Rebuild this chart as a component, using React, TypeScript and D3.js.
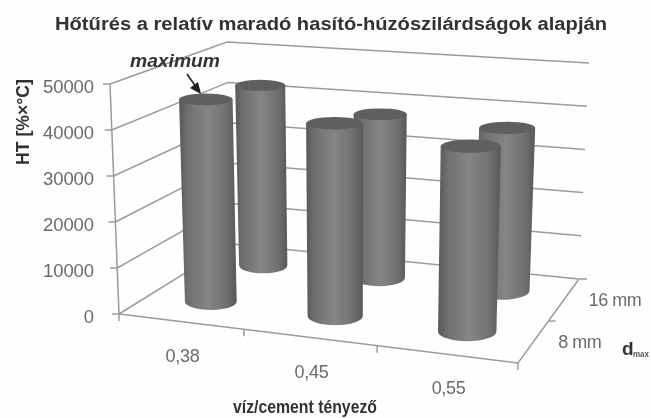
import React from "react";
import * as d3 from "d3";

const titleText = "Hőtűrés a relatív maradó hasító-húzószilárdságok alapján";
const xCategories = ["0,38", "0,45", "0,55"];
const depthCategories = ["8 mm", "16 mm"];
const yTicks = [0, 10000, 20000, 30000, 40000, 50000];
const row8mm = [45050, 42170, 39750];
const row16mm = [42800, 38050, 37100];

const W = 651, H = 418;
// projected corners of the 3D box: [x, y]
const floorFL = [119, 314], floorFR = [518, 363], floorBR = [579, 279], floorBL = [232, 244];
const topFL = [110, 84], topFR = [524, 120], topBR = [589, 63], topBL = [227, 42];

const uScale = d3.scaleLinear().domain([0, 1, 2, 3]).range([0, 0.313, 0.647, 1]);
const vScale = d3.scaleLinear().domain([0, 2]).range([0, 1]);
const zScale = d3.scaleLinear().domain([0, 50000]).range([0, 1]);

const lerp = (a: number, b: number, t: number) => a + (b - a) * t;
function proj(cat: number, depth: number, value: number): [number, number] {
  const u = uScale(cat), v = vScale(depth), z = zScale(value);
  const bil = (fl: number[], fr: number[], br: number[], bl: number[], i: number) =>
    lerp(lerp(fl[i], fr[i], u), lerp(bl[i], br[i], u), v);
  return [0, 1].map((i) =>
    lerp(bil(floorFL, floorFR, floorBR, floorBL, i), bil(topFL, topFR, topBR, topBL, i), z)
  ) as [number, number];
}

const line = d3.line<[number, number]>();
const GRID = "#9b9b9b";
const FONT = "'Liberation Sans', Arial, sans-serif";

function cylinderPath(cat: number, depth: number, value: number) {
  const half = 0.215;
  const c = cat + 0.5, d = depth + 0.56;
  const b = proj(c, d, 0), t = proj(c, d, value);
  const rb = (proj(c + half, d, 0)[0] - proj(c - half, d, 0)[0]) / 2;
  const rt = (proj(c + half, d, value)[0] - proj(c - half, d, value)[0]) / 2;
  const ryb = rb * 0.33, ryt = rt * 0.22;
  const side = `M${t[0] - rt},${t[1]} L${b[0] - rb},${b[1]} A${rb},${ryb} 0 0 0 ${b[0] + rb},${b[1]} L${t[0] + rt},${t[1]} Z`;
  return { side, t, rt, ryt };
}

export default function App() {
  return (
    <svg width={W} height={H} viewBox={`0 0 ${W} ${H}`} style={{ position: "absolute", left: 0, top: 0, background: "#fefefe" }}>
      <defs>
        <linearGradient id="cyl" x1="0" x2="1" y1="0" y2="0">
          <stop offset="0" stopColor="#585858" />
          <stop offset="0.14" stopColor="#6e6e6e" />
          <stop offset="0.5" stopColor="#858585" />
          <stop offset="0.82" stopColor="#707070" />
          <stop offset="1" stopColor="#585858" />
        </linearGradient>
        <filter id="soft" x="-5%" y="-5%" width="110%" height="110%">
          <feGaussianBlur stdDeviation="0.45" />
        </filter>
      </defs>
      <g filter="url(#soft)">
        <text x={331} y={30} textAnchor="middle" fontFamily={FONT} fontWeight="bold" fontSize={18} fill="#333" textLength={552} lengthAdjust="spacingAndGlyphs">{titleText}</text>

        {yTicks.map((tv) => (
          <g key={tv}>
            <path d={line([proj(0, 0, tv), proj(0, 2, tv), proj(3, 2, tv)]) ?? ""} fill="none" stroke={GRID} strokeWidth={1.5} />
            <path d={line([[proj(0, 0, tv)[0] - 7, proj(0, 0, tv)[1]], proj(0, 0, tv)]) ?? ""} stroke={GRID} strokeWidth={1.5} />
            <text x={94} y={proj(0, 0, tv)[1] + 9} textAnchor="end" fontFamily={FONT} fontSize={18.5} fill="#6b6b6b" letterSpacing={-0.1}>{tv}</text>
          </g>
        ))}
        <path d={line([proj(0, 0, 0), proj(0, 0, 50000)]) ?? ""} stroke={GRID} strokeWidth={1.5} />
        <path d={line([proj(0, 0, 0), proj(3, 0, 0), proj(3, 2, 0)]) ?? ""} fill="none" stroke={GRID} strokeWidth={1.5} />
        <path d={line([proj(3, 2, 0), [proj(3, 2, 0)[0] + 8, proj(3, 2, 0)[1]]]) ?? ""} stroke={GRID} strokeWidth={1.5} />
        {[0, 1, 2, 3].map((i) => {
          const p = proj(i, 0, 0);
          return <path key={i} d={line([p, [p[0], p[1] + 7]]) ?? ""} stroke={GRID} strokeWidth={1.5} />;
        })}
        {[1].map((i) => {
          const p = proj(3, i, 0);
          return <path key={i} d={line([p, [p[0] + 7, p[1]]]) ?? ""} stroke={GRID} strokeWidth={1.5} />;
        })}

        {[{ vals: row16mm, depth: 1 }, { vals: row8mm, depth: 0 }].map(({ vals, depth }) =>
          vals.map((val, i) => {
            const c = cylinderPath(i, depth, val);
            return (
              <g key={`${depth}-${i}`}>
                <path d={c.side} fill="url(#cyl)" />
                <ellipse cx={c.t[0]} cy={c.t[1]} rx={c.rt} ry={c.ryt} fill="#5e5e5e" />
              </g>
            );
          })
        )}

        {xCategories.map((label, i) => {
          const p = proj(i + 0.5, 0, 0);
          return <text key={label} x={p[0] + 1} y={p[1] + 40} textAnchor="middle" fontFamily={FONT} fontSize={18} fill="#6b6b6b" letterSpacing={-0.3}>{label}</text>;
        })}
        {depthCategories.map((label, i) => {
          const p = proj(3, i + 0.5, 0);
          return <text key={label} x={p[0] + 25} y={p[1] + 6} fontFamily={FONT} fontSize={18} fill="#6b6b6b" letterSpacing={-0.5}>{label}</text>;
        })}

        <text x={175} y={67} textAnchor="middle" fontFamily={FONT} fontStyle="italic" fontWeight="bold" fontSize={18} fill="#333" textLength={90} lengthAdjust="spacingAndGlyphs">maximum</text>
        <path d="M187,74 L196,87" stroke="#222" strokeWidth={1.6} fill="none" />
        <polygon points="201,94 190,88 198,82" fill="#1c1c1c" />

        <text transform="translate(29,122) rotate(-90)" textAnchor="middle" fontFamily={FONT} fontWeight="bold" fontSize={18} fill="#333" textLength={86} lengthAdjust="spacingAndGlyphs">{"HT [%×°C]"}</text>
        <text x={305} y={413} textAnchor="middle" fontFamily={FONT} fontWeight="bold" fontSize={18.5} fill="#333" textLength={144} lengthAdjust="spacingAndGlyphs">víz/cement tényező</text>
        <text x={622} y={355} fontFamily={FONT} fontWeight="bold" fontSize={19} fill="#333">d</text>
        <text x={633} y={357} fontFamily={FONT} fontSize={9.5} fontWeight="bold" fill="#555" textLength={16} lengthAdjust="spacingAndGlyphs">max</text>
      </g>
    </svg>
  );
}
